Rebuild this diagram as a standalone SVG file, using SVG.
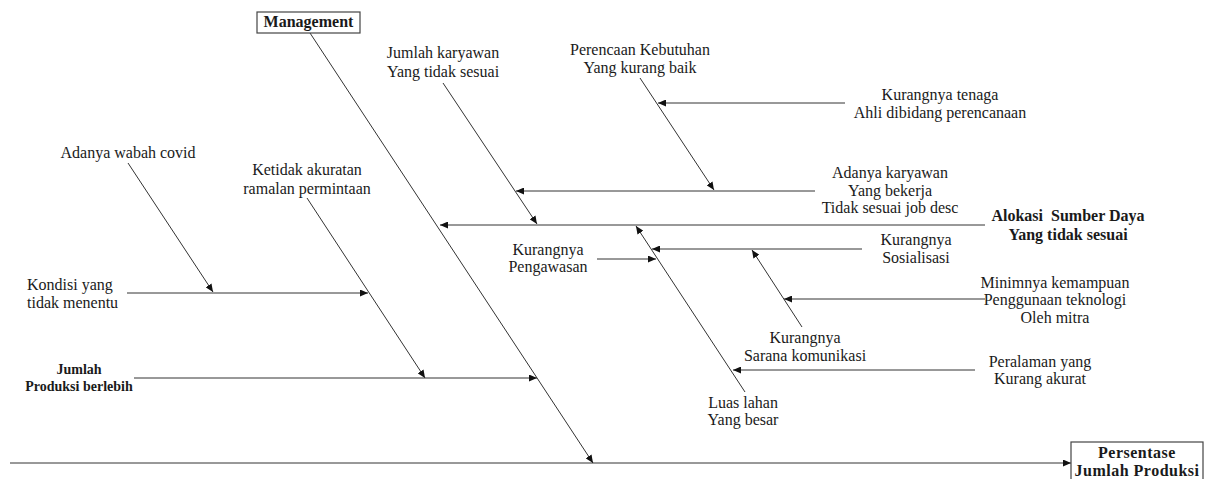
<svg xmlns="http://www.w3.org/2000/svg" width="1211" height="479" viewBox="0 0 1211 479">
<style>
text{font-family:"Liberation Serif","Times New Roman",serif;font-size:16px;fill:#1a1a1a;text-anchor:middle}
.b{font-weight:bold}
.s{font-size:14px;font-weight:bold}
.l{text-anchor:start}
.box{fill:#fff;stroke:#444;stroke-width:1.2}
.c{stroke:#333;stroke-width:1;fill:none;marker-end:url(#ah)}
</style>
<defs>
<marker id="ah" markerUnits="userSpaceOnUse" markerWidth="9" markerHeight="7" refX="8" refY="3.5" orient="auto">
<path d="M0,0 L8,3.5 L0,7 z" fill="#111"/>
</marker>
</defs>
<rect width="1211" height="479" fill="#fff"/>
<g id="connectors">
<line class="c" x1="10" y1="463" x2="1071" y2="463"/>
<line class="c" x1="310" y1="33" x2="593" y2="463"/>
<line class="c" x1="985" y1="225" x2="440" y2="225"/>
<line class="c" x1="443" y1="83" x2="537" y2="224"/>
<line class="c" x1="815" y1="191" x2="516" y2="191"/>
<line class="c" x1="640" y1="78" x2="714" y2="190"/>
<line class="c" x1="845" y1="103" x2="658" y2="103"/>
<line class="c" x1="862" y1="249" x2="652" y2="249"/>
<line class="c" x1="597" y1="259" x2="656" y2="259"/>
<line class="c" x1="745" y1="392" x2="636" y2="226"/>
<line class="c" x1="802" y1="327" x2="752" y2="250"/>
<line class="c" x1="985" y1="299" x2="784" y2="299"/>
<line class="c" x1="975" y1="370" x2="733" y2="370"/>
<line class="c" x1="128" y1="163" x2="213" y2="292"/>
<line class="c" x1="127" y1="293" x2="368" y2="293"/>
<line class="c" x1="307" y1="198" x2="425" y2="378"/>
<line class="c" x1="134" y1="378" x2="537" y2="378"/>
</g>
<g id="management">
<rect class="box" x="257" y="12" width="103" height="21"/>
<text class="b" x="308.5" y="27">Management</text>
</g>
<g id="jumlah-karyawan">
<text x="443" y="58">Jumlah karyawan</text>
<text x="443" y="77">Yang tidak sesuai</text>
</g>
<g id="perencaan">
<text x="640" y="55">Perencaan Kebutuhan</text>
<text x="640" y="73">Yang kurang baik</text>
</g>
<g id="kurangnya-tenaga">
<text x="940" y="100">Kurangnya tenaga</text>
<text x="940" y="118">Ahli dibidang perencanaan</text>
</g>
<g id="wabah-covid">
<text x="128" y="158">Adanya wabah covid</text>
</g>
<g id="ketidak-akuratan">
<text x="307" y="175">Ketidak akuratan</text>
<text x="307" y="194">ramalan permintaan</text>
</g>
<g id="adanya-karyawan">
<text x="890" y="178">Adanya karyawan</text>
<text x="890" y="196">Yang bekerja</text>
<text x="890" y="213">Tidak sesuai job desc</text>
</g>
<g id="alokasi">
<text class="b" x="1068" y="221" xml:space="preserve">Alokasi  Sumber Daya</text>
<text class="b" x="1068" y="240">Yang tidak sesuai</text>
</g>
<g id="sosialisasi">
<text x="916" y="245">Kurangnya</text>
<text x="916" y="263">Sosialisasi</text>
</g>
<g id="pengawasan">
<text x="548" y="255">Kurangnya</text>
<text x="548" y="272">Pengawasan</text>
</g>
<g id="minimnya">
<text x="1055" y="288">Minimnya kemampuan</text>
<text x="1055" y="305">Penggunaan teknologi</text>
<text x="1055" y="323">Oleh mitra</text>
</g>
<g id="kondisi">
<text class="l" x="27" y="290">Kondisi yang</text>
<text class="l" x="27" y="308">tidak menentu</text>
</g>
<g id="komunikasi">
<text x="805" y="343">Kurangnya</text>
<text x="805" y="361">Sarana komunikasi</text>
</g>
<g id="peralaman">
<text x="1040" y="367">Peralaman yang</text>
<text x="1040" y="384">Kurang akurat</text>
</g>
<g id="jumlah-produksi">
<text class="s" x="79" y="374">Jumlah</text>
<text class="s" x="79" y="391">Produksi berlebih</text>
</g>
<g id="luas-lahan">
<text x="743" y="408">Luas lahan</text>
<text x="743" y="425">Yang besar</text>
</g>
<g id="persentase">
<rect class="box" x="1071" y="442" width="132" height="45"/>
<text class="b" x="1137" y="458" letter-spacing="0.5">Persentase</text>
<text class="b" x="1137" y="476" letter-spacing="0.5">Jumlah Produksi</text>
</g>
</svg>
